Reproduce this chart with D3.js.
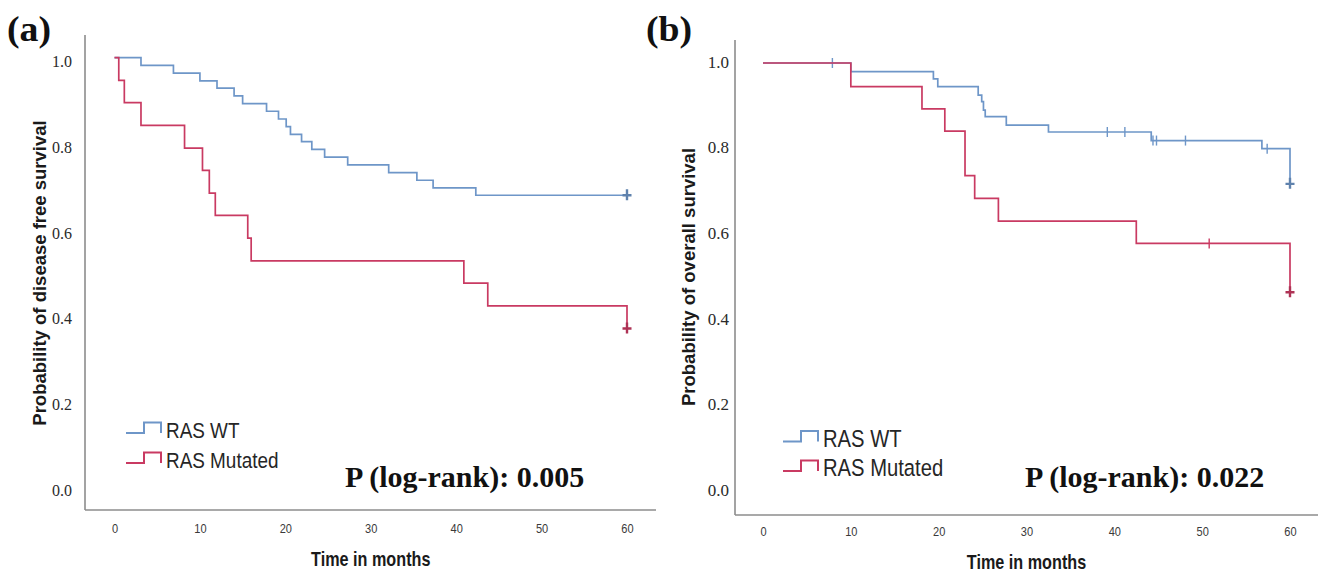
<!DOCTYPE html>
<html>
<head>
<meta charset="utf-8">
<script src="https://cdn.jsdelivr.net/npm/d3@7"></script>
<style>
  html, body { margin: 0; padding: 0; background: #fff; }
  svg { display: block; }
</style>
</head>
<body>
<div id="chart"></div>
<script>
// ---- data (months, survival probability) ----
const xTicks = [0, 10, 20, 30, 40, 50, 60]
const yTicks = [0, 0.2, 0.4, 0.6, 0.8, 1.0]
const seriesNames = ["RAS WT", "RAS Mutated"]

// (a) disease free survival
const dfsWtTime = [0, 3.1, 6.9, 10.0, 12.0, 14.0, 15.0, 17.8, 19.2, 20.1, 20.6, 21.9, 23.1, 24.6, 27.3, 32.1, 35.4, 37.3, 42.3, 60]
const dfsWtSurv = [1, .982, .964, .946, .929, .911, .893, .875, .857, .839, .821, .804, .786, .768, .750, .732, .714, .696, .679, .679]
const dfsWtCensor = []
const dfsMutTime = [0, 0.5, 1.15, 3.1, 8.2, 10.3, 11.1, 11.8, 15.6, 16.0, 40.9, 43.7, 60]
const dfsMutSurv = [1, .947, .895, .842, .789, .737, .684, .632, .579, .526, .474, .421, .368]
const dfsMutCensor = []
const dfsPValue = "P (log-rank): 0.005"

// (b) overall survival
const osWtTime = [0, 10.0, 19.4, 19.9, 24.5, 24.9, 25.1, 25.3, 27.7, 32.5, 44.2, 56.8, 60]
const osWtSurv = [1, .980, .963, .945, .925, .910, .890, .875, .855, .839, .819, .800, .718]
const osWtCensor = [7.9, 39.2, 41.2, 44.4, 44.8, 48.1, 57.4]
const osMutTime = [0, 10.0, 18.1, 20.7, 23.0, 24.1, 26.8, 42.5, 60]
const osMutSurv = [1, .945, .893, .841, .737, .684, .631, .579, .465]
const osMutCensor = [50.8]
const osPValue = "P (log-rank): 0.022"

const colors = { wt: "#6e96c8", mut: "#c93a62" }
const axisColor = "#8c8c8c"
const serif = "'Liberation Serif', 'Times New Roman', serif"
const sans = "'Liberation Sans', Arial, sans-serif"

const width = 1320, height = 574

const svg = d3.select("#chart").append("svg")
  .attr("width", width)
  .attr("height", height)

// panel layouts (pixels)
const panels = [
  {
    tag: "(a)", tagX: 7, tagY: 41,
    yTitle: "Probability of disease free survival", yTitleX: 40, yTitleY: 273,
    axisX: 85, axisTop: 35, axisY: 510, axisRight: 656,
    xRange: [114.5, 627], yRange: [486.2, 57.7], yLabelShift: 3.8, yLabelRight: 72, yLabelSize: 16,
    xLabelY: 531, xTitleY: 566,
    legX: 126, legY: 433, legGap: 30, legSize: 22,
    pX: 345, pY: 487,
    curves: [
      { t: dfsWtTime, s: dfsWtSurv, c: dfsWtCensor, color: colors.wt },
      { t: dfsMutTime, s: dfsMutSurv, c: dfsMutCensor, color: colors.mut }
    ],
    pText: dfsPValue
  },
  {
    tag: "(b)", tagX: 646, tagY: 41,
    yTitle: "Probability of overall survival", yTitleX: 689, yTitleY: 277,
    axisX: 735, axisTop: 40, axisY: 515, axisRight: 1318,
    xRange: [763, 1290], yRange: [491.5, 63], yLabelShift: -1.3, yLabelRight: 729, yLabelSize: 17,
    xLabelY: 534, xTitleY: 569,
    legX: 783, legY: 441.5, legGap: 29.5, legSize: 23.5,
    pX: 1025, pY: 487,
    curves: [
      { t: osWtTime, s: osWtSurv, c: osWtCensor, color: colors.wt },
      { t: osMutTime, s: osMutSurv, c: osMutCensor, color: colors.mut }
    ],
    pText: osPValue
  }
]

panels.forEach(p => {
  const g = svg.append("g")
  const x = d3.scaleLinear().domain([0, 60]).range(p.xRange)
  const y = d3.scaleLinear().domain([0, 1]).range(p.yRange)

  // panel letter
  g.append("text")
    .attr("transform", `translate(${p.tagX},${p.tagY}) scale(1.08,1)`)
    .style("font-family", serif).style("font-weight", "bold").style("font-size", "35px")
    .attr("fill", "#111")
    .text(p.tag)

  // axis lines
  g.append("line")
    .attr("x1", p.axisX).attr("x2", p.axisX)
    .attr("y1", p.axisTop).attr("y2", p.axisY)
    .attr("stroke", axisColor).attr("stroke-width", 1.6)
  g.append("line")
    .attr("x1", p.axisX).attr("x2", p.axisRight)
    .attr("y1", p.axisY).attr("y2", p.axisY)
    .attr("stroke", axisColor).attr("stroke-width", 1.6)

  // x tick labels
  const xAxis = g.append("g")
    .attr("transform", `translate(0,${p.xLabelY - 8})`)
    .call(d3.axisBottom(x).tickValues(xTicks).tickSize(0).tickPadding(0).tickFormat(d3.format("d")))
  xAxis.select(".domain").remove()
  xAxis.selectAll("text")
    .style("font-family", sans).style("font-size", "13px")
    .attr("fill", "#3a3a3a").attr("dy", "0.71em")
    .attr("transform", "scale(0.85,1.05)")

  // y tick labels
  const yAxis = g.append("g")
    .attr("transform", `translate(${p.yLabelRight},${p.yLabelShift})`)
    .call(d3.axisLeft(y).tickValues(yTicks).tickSize(0).tickPadding(0).tickFormat(d3.format(".1f")))
  yAxis.select(".domain").remove()
  yAxis.selectAll("text")
    .style("font-family", serif).style("font-size", p.yLabelSize + "px")
    .attr("fill", "#2a2a2a")

  // axis titles
  g.append("text")
    .attr("transform", `translate(${p.yTitleX},${p.yTitleY}) rotate(-90)`)
    .attr("text-anchor", "middle").attr("dy", "0.35em")
    .style("font-family", sans).style("font-weight", "bold").style("font-size", "18.5px")
    .attr("fill", "#1a1a1a")
    .text(p.yTitle)

  g.append("text")
    .attr("transform", `translate(${(x(0) + x(60)) / 2},${p.xTitleY}) scale(0.9,1.1)`)
    .attr("text-anchor", "middle")
    .style("font-family", sans).style("font-weight", "bold").style("font-size", "18px")
    .attr("fill", "#1a1a1a")
    .text("Time in months")

  // survival curves
  const line = d3.line()
    .x(d => x(d[0]))
    .y(d => y(d[1]))
    .curve(d3.curveStepAfter)

  p.curves.forEach(cv => {
    const pts = cv.t.map((t, i) => [t, cv.s[i]])
    g.append("path")
      .datum(pts)
      .attr("d", line)
      .attr("fill", "none")
      .attr("stroke", cv.color)
      .attr("stroke-width", 1.7)

    // censor ticks along the curve
    const stepAt = t => {
      let v = cv.s[0]
      cv.t.forEach((tt, i) => { if (tt <= t) v = cv.s[i] })
      return v
    }
    g.selectAll(null)
      .data(cv.c)
      .enter().append("line")
      .attr("x1", d => x(d)).attr("x2", d => x(d))
      .attr("y1", d => y(stepAt(d)) - 5).attr("y2", d => y(stepAt(d)) + 5)
      .attr("stroke", cv.color).attr("stroke-width", 1.4)

    // end-of-follow-up marker
    const last = pts[pts.length - 1]
    const mx = x(last[0]), my = y(last[1])
    g.append("path")
      .attr("d", `M${mx - 4.5},${my}H${mx + 4.5}M${mx},${my - 6}V${my + 5}`)
      .attr("stroke", d3.color(cv.color).darker(0.4)).attr("stroke-width", 2.4)
      .attr("fill", "none")
  })

  // legend
  seriesNames.forEach((name, i) => {
    const ly = p.legY + i * p.legGap
    const col = i === 0 ? colors.wt : colors.mut
    g.append("path")
      .attr("d", `M${p.legX},${ly}H${p.legX + 18}V${ly - 10.5}H${p.legX + 35}V${ly}`)
      .attr("fill", "none").attr("stroke", col).attr("stroke-width", 2)
    g.append("text")
      .attr("transform", `translate(${p.legX + 40},${ly - 3}) scale(0.86,1)`)
      .attr("dy", "0.35em")
      .style("font-family", sans).style("font-size", p.legSize + "px")
      .attr("fill", "#262626")
      .text(name)
  })

  // log-rank p value
  g.append("text")
    .attr("x", p.pX).attr("y", p.pY)
    .style("font-family", serif).style("font-weight", "bold").style("font-size", "30px")
    .attr("fill", "#111")
    .text(p.pText)
})
</script>
</body>
</html>
